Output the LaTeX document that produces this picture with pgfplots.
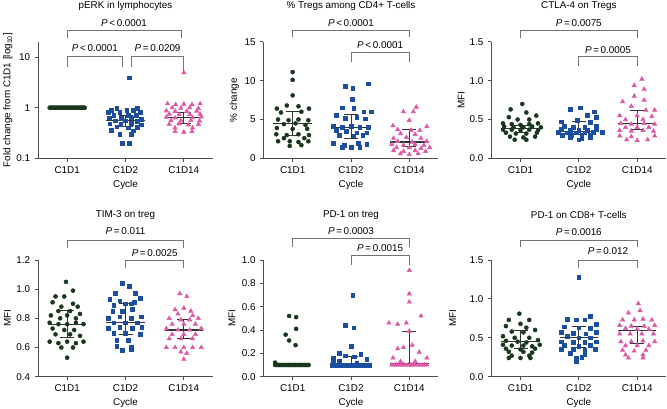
\documentclass[border=0pt]{standalone}
\usepackage{fontspec}
\setmainfont{Liberation Sans}
\usepackage{pgfplots}
\pgfplotsset{compat=1.18}
\definecolor{cg}{RGB}{25,55,28}
\definecolor{cb}{RGB}{28,78,160}
\definecolor{cp}{RGB}{222,88,168}
\newcommand\fs{\fontsize{7.4}{8.8}\selectfont}
\tikzset{brk/.style={black!55, line width=0.6pt}}
\pgfplotsset{
 prism/.style={scale only axis,width=131.25pt,height=87.5pt,
  axis lines*=left, axis line style={black!70, line width=0.6pt},
  tick style={black!70, line width=0.6pt}, tick align=outside, major tick length=2.4pt,
  xmin=-0.5,xmax=2.5,xtick={0,1,2},xticklabels={C1D1,C1D2,C1D14},
  clip=false, enlargelimits=false,
  tick label style={font=\fs},
  xlabel={Cycle},
  every axis x label/.style={at={(axis description cs:0.5,-0.228)},anchor=center,font=\fs},
  /pgf/number format/assume math mode=true,
 },
 top/.style={every axis title/.style={at={(axis description cs:0.5,1.306)},anchor=center,font=\fs}},
 bot/.style={every axis title/.style={at={(axis description cs:0.5,1.386)},anchor=center,font=\fs}},
 yl/.style={every axis y label/.style={at={(axis description cs:#1,0.5)},rotate=90,anchor=center,font=\fs}},
 g/.style={only marks, mark=*, mark size=1.5pt, cg},
 b/.style={only marks, mark=square*, mark size=1.4pt, cb},
 p/.style={only marks, mark=triangle*, mark size=1.85pt, cp},
 eb/.style={black!80, line width=0.65pt},
}
% bracket: x1, x2 (category units), y top, y left leg end, y right leg end, y of label (axis fractions), label
\newcommand\brk[7]{%
 \draw[brk] (rel axis cs:{(#1+0.5)/3},#4) -- (rel axis cs:{(#1+0.5)/3},#3) -- (rel axis cs:{(#2+0.5)/3},#3) -- (rel axis cs:{(#2+0.5)/3},#5);
 \node[font=\fs] at (rel axis cs:{(#1+#2+1)/6},#6) {#7};
}
\newcommand\mq[4]{%
 \addplot[eb,line width=0.9pt] table[x expr=\thisrow{d}+#1,y=v,row sep=\\]{d v\\ -0.33 #2\\ 0.33 #2\\};
 \addplot[eb] table[x expr=\thisrow{d}+#1,y=v,row sep=\\]{d v\\ 0 #3\\ 0 #4\\};
 \addplot[eb] table[x expr=\thisrow{d}+#1,y=v,row sep=\\]{d v\\ -0.12 #3\\ 0.12 #3\\};
 \addplot[eb] table[x expr=\thisrow{d}+#1,y=v,row sep=\\]{d v\\ -0.12 #4\\ 0.12 #4\\};
}
\newcommand\Plt{\textit{P}\,<\,}
\newcommand\Peq{\textit{P}\,=\,}
\begin{document}
\begin{tikzpicture}
\path[use as bounding box] (0,0) rectangle (500.25pt,-306.75pt);
% ---------- Panel 1
\begin{axis}[prism,top,yl=-0.172,at={(28.5pt,-118.8pt)},anchor=south west,
 ymode=log,ymin=0.1,ymax=20,ytick={0.1,1,10},yticklabels={0.1,1,10},yminorticks=false,
 title={pERK in lymphocytes},ylabel={Fold change from C1D1 [log\textsubscript{10}]}]
\addplot[g] table[x expr=\thisrow{d}+0,y=v,row sep=\\]{d v\\
-0.30 1\\ -0.28 1\\ -0.26 1\\ -0.24 1\\ -0.22 1\\ -0.20 1\\ -0.18 1\\ -0.16 1\\ -0.14 1\\ -0.12 1\\ -0.10 1\\ -0.08 1\\ -0.06 1\\ -0.04 1\\ -0.02 1\\ 0 1\\ 0.02 1\\ 0.04 1\\ 0.06 1\\ 0.08 1\\ 0.10 1\\ 0.12 1\\ 0.14 1\\ 0.16 1\\ 0.18 1\\ 0.20 1\\ 0.22 1\\ 0.24 1\\ 0.26 1\\ 0.28 1\\ 0.30 1\\};
\addplot[b] table[x expr=\thisrow{d}+1,y=v,row sep=\\]{d v\\
0.07 3.9\\ -0.15 0.97\\ 0.20 0.97\\ -0.25 0.90\\ 0.02 0.88\\ 0.13 0.88\\ -0.30 0.80\\ -0.10 0.80\\ 0.25 0.82\\ -0.20 0.72\\ 0.05 0.70\\ 0.18 0.72\\ -0.28 0.63\\ -0.07 0.62\\ 0.10 0.63\\ 0.27 0.60\\ -0.18 0.55\\ 0.00 0.55\\ 0.20 0.54\\ -0.27 0.48\\ -0.08 0.47\\ 0.10 0.49\\ 0.27 0.46\\ -0.15 0.42\\ 0.05 0.40\\ 0.20 0.41\\ -0.25 0.36\\ 0.13 0.35\\ -0.10 0.30\\ 0.10 0.30\\ -0.06 0.20\\ 0.06 0.20\\};
\addplot[p] table[x expr=\thisrow{d}+2,y=v,row sep=\\]{d v\\
0 4.9\\ -0.28 1.2\\ -0.14 1.15\\ 0.0 1.18\\ 0.14 1.15\\ 0.28 1.2\\ -0.2 1.0\\ -0.05 0.98\\ 0.1 1.0\\ 0.25 0.97\\ -0.3 0.87\\ -0.15 0.85\\ 0.05 0.85\\ 0.22 0.86\\ -0.25 0.75\\ -0.08 0.73\\ 0.1 0.74\\ 0.28 0.75\\ -0.3 0.65\\ -0.15 0.63\\ 0.15 0.64\\ 0.3 0.66\\ -0.22 0.56\\ -0.05 0.55\\ 0.12 0.56\\ 0.27 0.55\\ -0.25 0.47\\ -0.08 0.48\\ 0.08 0.46\\ 0.25 0.47\\ -0.15 0.40\\ 0.15 0.40\\ -0.15 0.34\\ 0.0 0.33\\ 0.14 0.34\\};
\mq{1}{0.55}{0.42}{0.70}
\mq{2}{0.65}{0.48}{0.81}
\brk{0}{1.95}{1.094}{1.034}{1.034}{1.158}{\Plt 0.0001}
\brk{0}{0.95}{0.871}{0.786}{0.786}{0.949}{\Plt 0.0001}
\brk{1.1}{2}{0.871}{0.786}{0.743}{0.949}{\Peq 0.0209}
\end{axis}
% ---------- Panel 2
\begin{axis}[prism,top,yl=-0.167,at={(197.6pt,-118.8pt)},anchor=south west,
 ymin=0,ymax=15,ytick={0,5,10,15},yticklabels={0,5,10,15},
 title={\% Tregs among CD4+ T-cells},ylabel={\% change}]
\addplot[g] table[x expr=\thisrow{d}+0,y=v,row sep=\\]{d v\\
0 11.1\\ 0 10.1\\ 0 8.1\\ -0.27 6.4\\ -0.1 6.8\\ 0.1 6.7\\ 0.28 6.4\\ -0.2 5.9\\ 0.15 6.0\\ -0.25 5.0\\ -0.07 4.9\\ 0.1 5.0\\ 0.27 4.9\\ -0.15 4.4\\ 0.05 4.5\\ 0.22 4.3\\ -0.27 3.9\\ 0.0 3.8\\ 0.25 3.8\\ -0.28 3.1\\ -0.1 3.0\\ 0.1 3.1\\ 0.28 3.0\\ -0.15 2.6\\ 0.2 2.6\\ -0.25 2.2\\ -0.05 2.2\\ 0.1 2.1\\ 0.27 2.2\\ -0.05 1.6\\ 0.15 1.7\\};
\addplot[b] table[x expr=\thisrow{d}+1,y=v,row sep=\\]{d v\\
-0.1 9.3\\ 0.03 9.0\\ 0.3 9.6\\ 0.02 7.6\\ -0.15 6.5\\ 0.05 6.4\\ 0.22 6.0\\ 0.35 6.0\\ -0.25 5.5\\ -0.1 5.2\\ 0.1 5.3\\ 0.25 5.1\\ -0.3 4.1\\ -0.15 4.0\\ 0.0 4.1\\ 0.15 4.0\\ 0.3 4.0\\ -0.25 3.6\\ -0.08 3.5\\ 0.1 3.3\\ 0.27 3.3\\ -0.2 3.0\\ 0.05 2.9\\ 0.2 3.0\\ -0.3 1.9\\ -0.12 1.7\\ 0.12 1.9\\ 0.27 1.8\\ -0.15 1.4\\ 0.0 1.4\\ 0.15 1.4\\};
\addplot[p] table[x expr=\thisrow{d}+2,y=v,row sep=\\]{d v\\
0.12 6.6\\ -0.1 6.0\\ 0.07 6.0\\ 0.0 4.9\\ -0.28 4.2\\ 0.3 4.1\\ -0.2 3.7\\ 0.03 3.6\\ 0.18 3.6\\ -0.15 3.2\\ 0.1 3.1\\ -0.27 2.6\\ -0.05 2.7\\ 0.2 2.6\\ -0.2 2.2\\ 0.05 2.1\\ 0.3 2.2\\ -0.3 1.8\\ -0.1 1.7\\ 0.1 1.8\\ 0.25 1.7\\ -0.22 1.4\\ 0.0 1.4\\ 0.2 1.3\\ 0.35 1.4\\ -0.27 1.0\\ -0.1 0.9\\ 0.1 1.0\\ 0.28 0.9\\ -0.15 0.6\\ 0.0 0.5\\ 0.15 0.6\\};
\mq{0}{4.5}{3.0}{6.1}
\mq{1}{4.0}{2.6}{5.7}
\mq{2}{2.1}{1.5}{3.7}
\brk{0}{2}{1.094}{1.038}{1.038}{1.163}{\Plt 0.0001}
\brk{1}{2}{0.909}{0.829}{0.829}{0.972}{\Plt 0.0001}
\end{axis}
% ---------- Panel 3
\begin{axis}[prism,top,yl=-0.172,at={(368.5pt,-118.8pt)},anchor=south west,
 ymin=0,ymax=1.5,ytick={0,0.5,1,1.5},yticklabels={0.0,0.5,1.0,1.5},
 title={CTLA-4 on Tregs},ylabel={MFI}]
\addplot[g] table[x expr=\thisrow{d}+0,y=v,row sep=\\]{d v\\
0.03 0.70\\ -0.17 0.63\\ 0.1 0.59\\ 0.27 0.55\\ -0.2 0.53\\ -0.05 0.50\\ 0.15 0.50\\ -0.3 0.45\\ -0.15 0.44\\ 0.0 0.43\\ 0.15 0.44\\ 0.3 0.45\\ -0.28 0.41\\ -0.12 0.40\\ 0.05 0.40\\ 0.2 0.41\\ 0.35 0.40\\ -0.3 0.37\\ -0.15 0.37\\ 0.0 0.36\\ 0.15 0.37\\ 0.3 0.36\\ -0.25 0.33\\ -0.08 0.32\\ 0.1 0.32\\ 0.28 0.33\\ -0.18 0.28\\ 0.05 0.27\\ 0.25 0.28\\ -0.1 0.24\\ 0.1 0.24\\};
\addplot[b] table[x expr=\thisrow{d}+1,y=v,row sep=\\]{d v\\
-0.15 0.63\\ 0.02 0.65\\ 0.27 0.60\\ 0.15 0.55\\ 0.3 0.53\\ -0.03 0.49\\ -0.3 0.47\\ 0.2 0.46\\ -0.25 0.41\\ -0.1 0.40\\ 0.1 0.40\\ 0.3 0.41\\ -0.3 0.37\\ -0.15 0.36\\ 0.0 0.36\\ 0.15 0.36\\ 0.3 0.37\\ -0.35 0.34\\ -0.2 0.33\\ -0.05 0.33\\ 0.1 0.33\\ 0.25 0.34\\ 0.4 0.34\\ -0.28 0.30\\ -0.12 0.30\\ 0.05 0.30\\ 0.2 0.30\\ -0.15 0.27\\ 0.05 0.26\\ 0.2 0.27\\ 0.0 0.24\\};
\addplot[p] table[x expr=\thisrow{d}+2,y=v,row sep=\\]{d v\\
0.08 1.02\\ -0.05 0.94\\ 0.12 0.89\\ -0.05 0.80\\ 0.12 0.75\\ -0.25 0.73\\ -0.1 0.67\\ 0.3 0.62\\ 0.15 0.62\\ -0.3 0.55\\ 0.0 0.55\\ 0.25 0.54\\ -0.2 0.50\\ 0.1 0.50\\ -0.28 0.45\\ -0.1 0.44\\ 0.12 0.45\\ 0.3 0.44\\ -0.2 0.40\\ 0.0 0.40\\ 0.2 0.40\\ -0.3 0.36\\ -0.1 0.35\\ 0.1 0.36\\ 0.28 0.35\\ -0.3 0.29\\ 0.3 0.29\\ -0.1 0.28\\ -0.18 0.24\\ 0.0 0.23\\ 0.18 0.24\\};
\mq{0}{0.38}{0.33}{0.43}
\mq{1}{0.35}{0.31}{0.47}
\mq{2}{0.45}{0.37}{0.62}
\brk{0}{2}{1.094}{1.034}{1.034}{1.163}{\Peq 0.0075}
\brk{1}{2}{0.871}{0.792}{0.792}{0.929}{\Peq 0.0005}
\end{axis}
% ---------- Panel 4
\begin{axis}[prism,bot,yl=-0.175,at={(28.5pt,-282.5pt)},anchor=south west,
 ymin=0.4,ymax=1.2,ytick={0.4,0.6,0.8,1.0,1.2},yticklabels={0.4,0.6,0.8,1.0,1.2},
 title={TIM-3 on treg},ylabel={MFI}]
\addplot[g] table[x expr=\thisrow{d}+0,y=v,row sep=\\]{d v\\
-0.02 1.05\\ 0.1 0.99\\ -0.2 0.95\\ -0.05 0.95\\ -0.25 0.91\\ 0.1 0.90\\ -0.1 0.88\\ 0.18 0.88\\ -0.15 0.85\\ 0.05 0.85\\ 0.22 0.83\\ -0.28 0.82\\ 0.0 0.82\\ -0.12 0.80\\ 0.15 0.80\\ -0.3 0.77\\ -0.15 0.76\\ 0.0 0.76\\ 0.15 0.77\\ 0.28 0.76\\ -0.25 0.73\\ -0.05 0.72\\ 0.12 0.72\\ -0.2 0.69\\ 0.05 0.69\\ 0.22 0.68\\ -0.3 0.64\\ -0.15 0.63\\ 0.0 0.64\\ 0.15 0.63\\ 0.28 0.64\\ -0.1 0.60\\ 0.1 0.60\\ 0.0 0.53\\};
\addplot[b] table[x expr=\thisrow{d}+1,y=v,row sep=\\]{d v\\
-0.05 1.04\\ 0.06 1.02\\ -0.17 0.97\\ 0.17 0.97\\ -0.27 0.93\\ -0.1 0.92\\ 0.1 0.90\\ 0.25 0.94\\ -0.2 0.89\\ 0.0 0.90\\ 0.15 0.91\\ -0.22 0.85\\ -0.05 0.85\\ 0.12 0.86\\ -0.3 0.80\\ -0.1 0.81\\ 0.1 0.80\\ 0.27 0.81\\ -0.2 0.77\\ 0.0 0.77\\ 0.2 0.77\\ -0.3 0.73\\ -0.1 0.74\\ 0.12 0.73\\ 0.28 0.74\\ -0.2 0.70\\ 0.0 0.70\\ 0.25 0.69\\ -0.15 0.65\\ 0.05 0.65\\ -0.15 0.61\\ 0.1 0.60\\ -0.05 0.58\\ 0.1 0.59\\};
\addplot[p] table[x expr=\thisrow{d}+2,y=v,row sep=\\]{d v\\
-0.07 0.97\\ 0.05 0.95\\ -0.15 0.86\\ 0.0 0.87\\ 0.12 0.85\\ -0.1 0.83\\ 0.15 0.82\\ -0.25 0.80\\ -0.05 0.79\\ 0.1 0.79\\ 0.25 0.80\\ -0.2 0.76\\ 0.0 0.76\\ 0.2 0.76\\ -0.3 0.73\\ -0.1 0.72\\ 0.1 0.72\\ 0.3 0.73\\ -0.2 0.69\\ 0.0 0.69\\ 0.2 0.69\\ -0.25 0.66\\ -0.05 0.66\\ 0.15 0.66\\ -0.3 0.60\\ -0.15 0.60\\ 0.0 0.60\\ 0.15 0.60\\ 0.3 0.60\\ -0.05 0.57\\ 0.05 0.56\\ 0.0 0.52\\};
\mq{0}{0.76}{0.67}{0.855}
\mq{1}{0.77}{0.69}{0.90}
\mq{2}{0.72}{0.66}{0.79}
\brk{0}{2}{1.171}{1.105}{1.105}{1.248}{\Peq 0.011}
\brk{1}{2}{0.994}{0.929}{0.929}{1.057}{\Peq 0.0025}
\end{axis}
% ---------- Panel 5
\begin{axis}[prism,bot,yl=-0.18,at={(197.6pt,-282.5pt)},anchor=south west,
 ymin=0,ymax=1,ytick={0,0.2,0.4,0.6,0.8,1.0},yticklabels={0.0,0.2,0.4,0.6,0.8,1.0},
 title={PD-1 on treg},ylabel={MFI}]
\addplot[g] table[x expr=\thisrow{d}+0,y=v,row sep=\\]{d v\\
-0.06 0.52\\ 0.06 0.51\\ 0.06 0.41\\ -0.12 0.36\\ -0.06 0.31\\ 0.05 0.27\\ -0.3 0.12\\
-0.30 0.10\\ -0.275 0.10\\ -0.25 0.10\\ -0.225 0.10\\ -0.20 0.10\\ -0.175 0.10\\ -0.15 0.10\\ -0.125 0.10\\ -0.10 0.10\\ -0.075 0.10\\ -0.05 0.10\\ -0.025 0.10\\ 0 0.10\\ 0.025 0.10\\ 0.05 0.10\\ 0.075 0.10\\ 0.10 0.10\\ 0.125 0.10\\ 0.15 0.10\\ 0.175 0.10\\ 0.20 0.10\\ 0.225 0.10\\ 0.25 0.10\\ 0.275 0.10\\};
\addplot[b] table[x expr=\thisrow{d}+1,y=v,row sep=\\]{d v\\
0.03 0.70\\ -0.1 0.44\\ 0.05 0.42\\ 0.0 0.26\\ -0.2 0.20\\ -0.1 0.18\\ 0.06 0.17\\ 0.17 0.19\\ -0.3 0.16\\ 0.27 0.15\\ -0.3 0.12\\ -0.2 0.13\\ 0.1 0.12\\
-0.32 0.10\\ -0.28 0.10\\ -0.24 0.10\\ -0.20 0.10\\ -0.16 0.10\\ -0.12 0.10\\ -0.08 0.10\\ -0.04 0.10\\ 0 0.10\\ 0.04 0.10\\ 0.08 0.10\\ 0.12 0.10\\ 0.16 0.10\\ 0.20 0.10\\ 0.24 0.10\\ 0.28 0.10\\ 0.32 0.10\\};
\addplot[p] table[x expr=\thisrow{d}+2,y=v,row sep=\\]{d v\\
0.0 0.91\\ 0.0 0.71\\ 0.0 0.64\\ -0.35 0.46\\ -0.2 0.45\\ -0.05 0.46\\ 0.2 0.52\\ 0.0 0.39\\ -0.1 0.25\\ -0.2 0.24\\ 0.05 0.27\\ 0.17 0.21\\ -0.28 0.16\\ 0.3 0.16\\ -0.15 0.13\\ 0.1 0.13\\
-0.30 0.10\\ -0.26 0.10\\ -0.22 0.10\\ -0.18 0.10\\ -0.14 0.10\\ -0.10 0.10\\ -0.06 0.10\\ -0.02 0.10\\ 0.02 0.10\\ 0.06 0.10\\ 0.10 0.10\\ 0.14 0.10\\ 0.18 0.10\\ 0.22 0.10\\ 0.26 0.10\\ 0.30 0.10\\};
\mq{1}{0.10}{0.10}{0.17}
\mq{2}{0.11}{0.10}{0.39}
\brk{0}{2}{1.186}{1.114}{1.114}{1.251}{\Peq 0.0003}
\brk{1}{2}{1.043}{0.957}{0.957}{1.100}{\Peq 0.0015}
\end{axis}
% ---------- Panel 6
\begin{axis}[prism,bot,yl=-0.22,at={(368.5pt,-282.5pt)},anchor=south west,
 ymin=0,ymax=1.5,ytick={0,0.5,1,1.5},yticklabels={0.0,0.5,1.0,1.5},
 title={PD-1 on CD8+ T-cells},ylabel={MFI}]
\addplot[g] table[x expr=\thisrow{d}+0,y=v,row sep=\\]{d v\\
-0.02 0.81\\ -0.2 0.73\\ 0.15 0.73\\ 0.0 0.68\\ -0.25 0.65\\ 0.1 0.63\\ 0.25 0.60\\ -0.15 0.58\\ 0.05 0.57\\ -0.3 0.52\\ -0.1 0.50\\ 0.15 0.50\\ 0.3 0.47\\ -0.25 0.46\\ -0.05 0.45\\ 0.1 0.44\\ -0.3 0.41\\ -0.15 0.40\\ 0.05 0.40\\ 0.2 0.39\\ 0.33 0.41\\ -0.25 0.36\\ 0.0 0.35\\ 0.25 0.36\\ -0.2 0.32\\ 0.05 0.32\\ 0.2 0.31\\ -0.15 0.27\\ 0.15 0.27\\ -0.2 0.24\\ 0.0 0.24\\ 0.17 0.24\\};
\addplot[b] table[x expr=\thisrow{d}+1,y=v,row sep=\\]{d v\\
0.0 1.28\\ 0.2 0.78\\ -0.2 0.74\\ -0.05 0.73\\ 0.1 0.73\\ 0.3 0.67\\ -0.25 0.64\\ 0.0 0.63\\ 0.2 0.62\\ -0.3 0.57\\ -0.1 0.56\\ 0.12 0.55\\ 0.3 0.57\\ -0.2 0.52\\ 0.0 0.50\\ 0.2 0.50\\ -0.3 0.45\\ -0.1 0.44\\ 0.1 0.44\\ 0.3 0.45\\ -0.25 0.40\\ 0.0 0.39\\ 0.2 0.40\\ -0.3 0.35\\ -0.1 0.35\\ 0.1 0.34\\ 0.28 0.35\\ -0.15 0.30\\ 0.1 0.29\\ -0.05 0.24\\ 0.05 0.25\\ -0.05 0.19\\};
\addplot[p] table[x expr=\thisrow{d}+2,y=v,row sep=\\]{d v\\
0.02 0.94\\ -0.15 0.82\\ 0.05 0.85\\ -0.25 0.73\\ 0.1 0.74\\ 0.25 0.73\\ -0.05 0.73\\ -0.3 0.66\\ -0.1 0.65\\ 0.12 0.65\\ 0.3 0.66\\ -0.2 0.62\\ 0.0 0.61\\ 0.2 0.61\\ -0.3 0.55\\ -0.12 0.55\\ 0.08 0.55\\ 0.28 0.55\\ -0.28 0.45\\ -0.1 0.45\\ 0.1 0.46\\ 0.3 0.45\\ -0.2 0.40\\ 0.0 0.40\\ 0.2 0.40\\ -0.25 0.34\\ -0.05 0.33\\ 0.15 0.34\\ -0.2 0.28\\ 0.1 0.28\\ -0.15 0.24\\ 0.1 0.24\\};
\mq{0}{0.45}{0.36}{0.59}
\mq{1}{0.50}{0.37}{0.65}
\mq{2}{0.59}{0.43}{0.65}
\brk{0}{2}{1.171}{1.114}{1.114}{1.242}{\Peq 0.0016}
\brk{1}{2}{1.0}{0.929}{0.929}{1.077}{\Peq 0.012}
\end{axis}
\end{tikzpicture}
\end{document}
